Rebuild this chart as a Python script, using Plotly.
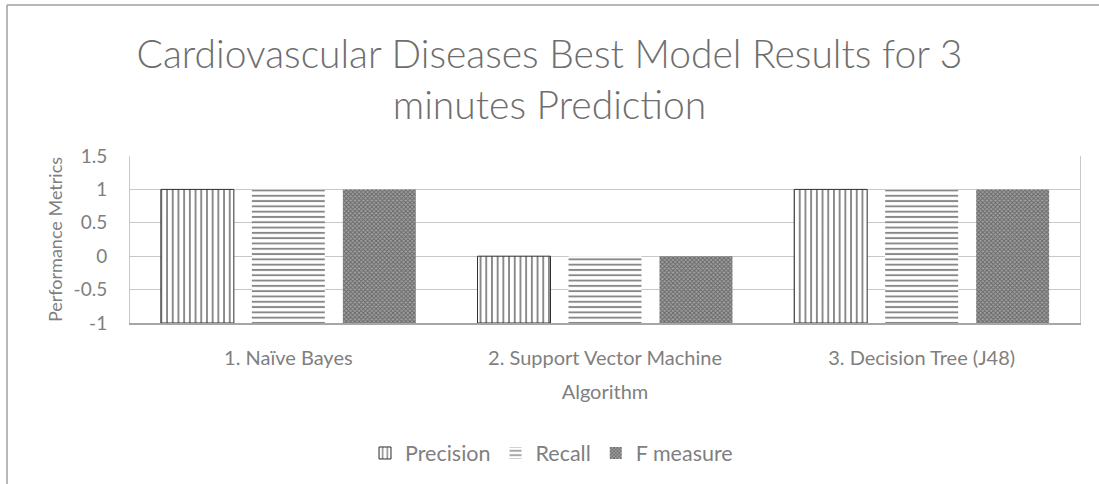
import plotly.graph_objects as go

categories = ["1. Naïve Bayes", "2. Support Vector Machine", "3. Decision Tree (J48)"]
precision = [1, 0, 1]
recall = [1, 0, 1]
f_measure = [1, 0, 1]
axis_base = -1
y_ticks = [-1, -0.5, 0, 0.5, 1, 1.5]
y_tick_labels = ["-1", "-0.5", "0", "0.5", "1", "1.5"]

FONT = "Lato"
TITLE_GREY = "#6e6e6e"
GREY = "#7f7f7f"

def rel(vals):
    return [v - axis_base for v in vals]

fig = go.Figure()
fig.add_trace(go.Bar(
    name="Precision", x=categories, y=rel(precision), base=axis_base,
    marker=dict(color="white", line=dict(color="#303030", width=1),
                pattern=dict(shape="|", size=5.7, solidity=0.33, fgcolor="#111111", bgcolor="white")),
))
fig.add_trace(go.Bar(
    name="Recall", x=categories, y=rel(recall), base=axis_base,
    marker=dict(color="white", line=dict(color="white", width=0),
                pattern=dict(shape="-", size=5.3, solidity=0.36, fgcolor="#111111", bgcolor="white")),
))
fig.add_trace(go.Bar(
    name="F measure", x=categories, y=rel(f_measure), base=axis_base,
    marker=dict(color="#7f7f7f", line=dict(color="white", width=0),
                pattern=dict(shape="x", size=3, solidity=0.5, fgcolor="#2a2a2a", bgcolor="#a0a0a0")),
))

px_l, px_r, px_t, px_b = 130, 1080, 156, 323
W, H = 1099, 484

def paper_x(X):
    return (X - px_l) / (px_r - px_l)

def paper_y(Y):
    return (px_b - Y) / (px_b - px_t)

fig.update_layout(
    width=W, height=H,
    margin=dict(l=px_l, r=W - px_r, t=px_t, b=H - px_b, autoexpand=False),
    paper_bgcolor="white", plot_bgcolor="white",
    barmode="group", bargap=0.138, bargroupgap=0.198,
    font=dict(family=FONT, color=GREY, size=20),
    title=dict(text="Cardiovascular Diseases Best Model Results for 3<br>minutes Prediction",
               x=0.5, xref="container", xanchor="center",
               y=1 - 68 / H, yref="container", yanchor="middle",
               font=dict(family=FONT, size=39, color=TITLE_GREY, weight=300)),
    legend=dict(orientation="h", x=paper_x(365), xanchor="left", y=paper_y(453), yanchor="middle",
                font=dict(family=FONT, size=21.5, color=GREY),
                traceorder="normal"),
    shapes=[
        dict(type="line", xref="paper", yref="paper", x0=paper_x(7), x1=paper_x(1105),
             y0=paper_y(5), y1=paper_y(5), line=dict(color="#a0a0a0", width=1.5)),
        dict(type="line", xref="paper", yref="paper", x0=paper_x(7), x1=paper_x(7),
             y0=paper_y(5), y1=paper_y(490), line=dict(color="#a0a0a0", width=1.5)),
    ],
)
fig.update_yaxes(
    range=[-1, 1.5], tickvals=y_ticks, ticktext=y_tick_labels,
    showgrid=True, gridcolor="#c8c8c8", gridwidth=1,
    showline=True, linecolor="#c8c8c8", mirror=True, zeroline=False,
    ticks="", ticklabelstandoff=18, tickfont=dict(size=19, color=GREY),
    title=dict(text="Performance Metrics", standoff=6, font=dict(size=18, color=GREY)),
)
fig.update_xaxes(
    showline=True, linecolor="#a6a6a6", linewidth=1.5, mirror=False,
    ticks="", ticklabelstandoff=16, tickfont=dict(size=20, color=GREY),
    title=dict(text="Algorithm", standoff=17, font=dict(size=20, color=GREY)),
)

fig.write_html("out.html", config={"displayModeBar": False},
               post_script="document.body.style.margin='0';document.body.style.overflow='hidden';")
